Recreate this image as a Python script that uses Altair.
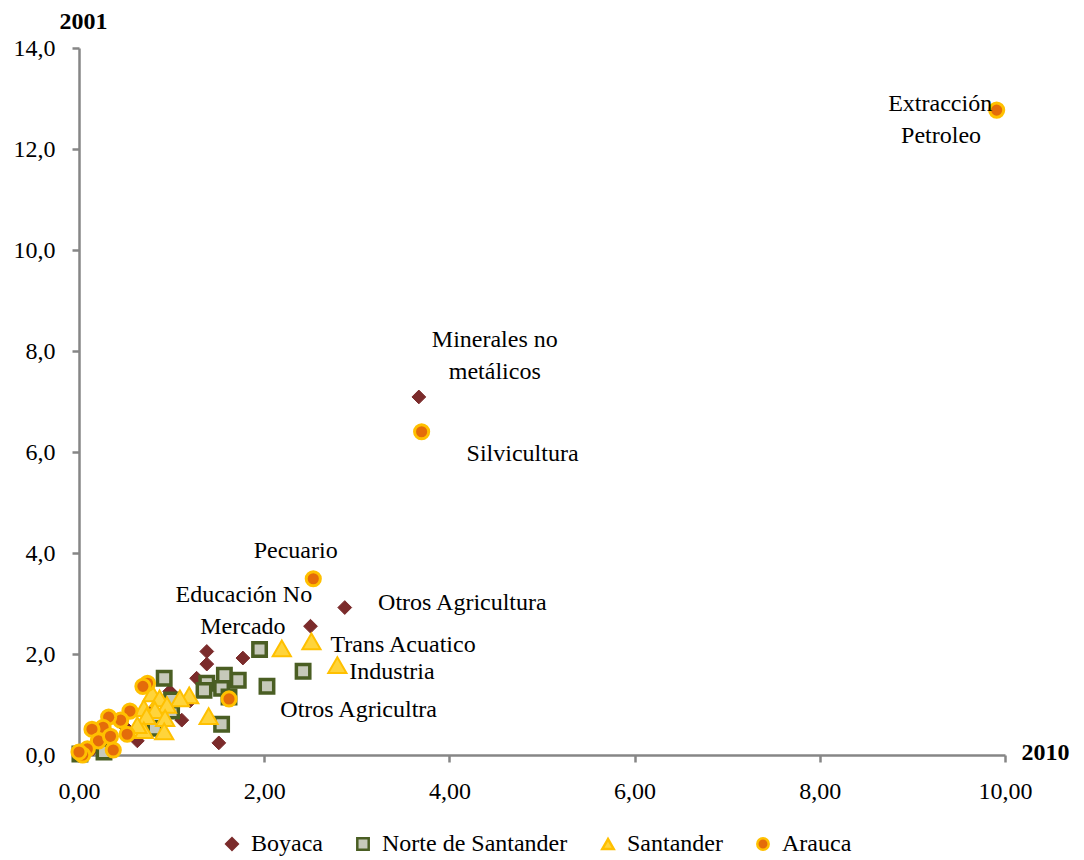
import altair as alt
import pandas as pd

series = ["Boyaca", "Norte de Santander", "Santander", "Arauca"]

boyaca_x = [3.67, 2.87, 2.50, 1.38, 1.38, 1.77, 1.27, 0.98, 1.20, 1.11, 0.63, 1.51, 1.00, 0.50, 0.30, 0.15, 0.80]
boyaca_y = [7.09, 2.92, 2.55, 2.05, 1.80, 1.92, 1.52, 1.26, 1.07, 0.69, 0.28, 0.24, 1.22, 0.55, 0.30, 0.12, 0.90]

norte_x = [1.95, 2.42, 2.03, 0.92, 1.57, 1.72, 1.38, 1.35, 1.54, 1.54, 1.00, 0.82, 0.27, 0.01, 1.00, 1.62]
norte_y = [2.09, 1.66, 1.36, 1.52, 1.58, 1.48, 1.42, 1.28, 1.32, 0.61, 0.87, 0.53, 0.06, 0.02, 1.09, 1.15]

santander_x = [2.19, 2.51, 2.79, 1.19, 1.09, 0.79, 0.87, 0.95, 0.70, 0.82, 0.73, 0.93, 0.70, 0.92, 1.40, 0.63]
santander_y = [2.11, 2.25, 1.78, 1.18, 1.12, 1.22, 1.12, 0.99, 0.93, 0.89, 0.77, 0.73, 0.49, 0.47, 0.77, 0.59]

arauca_x = [9.91, 3.70, 2.53, 1.62, 0.74, 0.69, 0.55, 0.45, 0.32, 0.26, 0.52, 0.14, 0.21, 0.34, 0.37, 0.09, 0.04, 0.00]
arauca_y = [12.77, 6.40, 3.49, 1.11, 1.42, 1.36, 0.87, 0.69, 0.75, 0.55, 0.41, 0.51, 0.28, 0.37, 0.10, 0.12, 0.00, 0.06]

label_text = ["Extracción", "Petroleo", "Minerales no", "metálicos", "Silvicultura", "Pecuario",
              "Otros Agricultura", "Educación  No", "Mercado", "Trans Acuatico", "Industria", "Otros Agricultra"]
label_x = [9.30, 9.31, 4.49, 4.49, 4.79, 2.34, 4.14, 1.78, 1.77, 3.50, 3.38, 3.02]
label_y = [12.89, 12.26, 8.22, 7.58, 5.96, 4.04, 3.01, 3.17, 2.53, 2.18, 1.64, 0.89]

x_ticks = [0, 2, 4, 6, 8, 10]
y_ticks = [0, 2, 4, 6, 8, 10, 12, 14]

data_by_series = {
    "Boyaca": (boyaca_x, boyaca_y),
    "Norte de Santander": (norte_x, norte_y),
    "Santander": (santander_x, santander_y),
    "Arauca": (arauca_x, arauca_y),
}
labels = pd.DataFrame({"t": label_text, "x": label_x, "y": label_y})

FONT = "Liberation Serif"
AXIS_GRAY = "#868686"

shapes = ["diamond", "square", "triangle-up", "circle"]
fills = ["#7B2B2B", "#C6C9BA", "#FFD43B", "#E46C0A"]
strokes = ["#7B2B2B", "#4A5E23", "#FFC000", "#FFC000"]
mark_sizes = [190, 180, 330, 200]
mark_strokes = [1, 3.5, 2, 3]

xscale = alt.Scale(domain=[0, 10], nice=False)
yscale = alt.Scale(domain=[0, 14], nice=False)

x_enc = alt.X("x:Q", scale=xscale,
              axis=alt.Axis(values=x_ticks, labelExpr="replace(format(datum.value, '.2f'), '.', ',')",
                            labelFlush=False,
                            title="2010", titleX=966, titleY=-3, titleAlign="center",
                            titleBaseline="middle", titleAngle=0))
y_enc = alt.Y("y:Q", scale=yscale,
              axis=alt.Axis(values=y_ticks, labelExpr="replace(format(datum.value, '.1f'), '.', ',')",
                            labelFlush=False,
                            title="2001", titleX=4, titleY=-27, titleAlign="center",
                            titleBaseline="middle", titleAngle=0))

legend = alt.Legend(title=None, orient="none", legendX=141, legendY=784, direction="horizontal")

layers = []
for i, name in enumerate(series):
    xs, ys = data_by_series[name]
    d = pd.DataFrame({"serie": [name] * len(xs), "x": xs, "y": ys})
    layers.append(
        alt.Chart(d).mark_point(filled=True, opacity=1, size=mark_sizes[i], strokeWidth=mark_strokes[i]).encode(
            x=x_enc, y=y_enc,
            shape=alt.Shape("serie:N", scale=alt.Scale(domain=series, range=shapes), legend=legend),
            fill=alt.Fill("serie:N", scale=alt.Scale(domain=series, range=fills), legend=legend),
            stroke=alt.Stroke("serie:N", scale=alt.Scale(domain=series, range=strokes), legend=legend),
        )
    )

texts = alt.Chart(labels).mark_text(font=FONT, fontSize=24, align="center", baseline="middle", color="black").encode(
    x=alt.X("x:Q", scale=xscale),
    y=alt.Y("y:Q", scale=yscale),
    text="t:N",
)
layers.append(texts)

chart = alt.layer(*layers).properties(
    width=926, height=707,
    autosize=alt.AutoSizeParams(type="none"),
    padding={"left": 71, "top": 40, "right": 70, "bottom": 104},
).configure_view(stroke=None).configure_axis(
    grid=False,
    domainColor=AXIS_GRAY, domainWidth=2.5,
    tickColor=AXIS_GRAY, tickWidth=2.5, tickSize=7,
    labelFont=FONT, labelFontSize=24, labelColor="black", labelPadding=17,
    titleFont=FONT, titleFontSize=24, titleFontWeight="bold", titleColor="black",
).configure_legend(
    labelFont=FONT, labelFontSize=24, labelColor="black", labelOffset=7, labelLimit=400,
    columnPadding=28, symbolSize=130, symbolStrokeWidth=2.5, padding=0,
)

chart.save("out.html", embed_options={"renderer": "svg", "actions": False})
